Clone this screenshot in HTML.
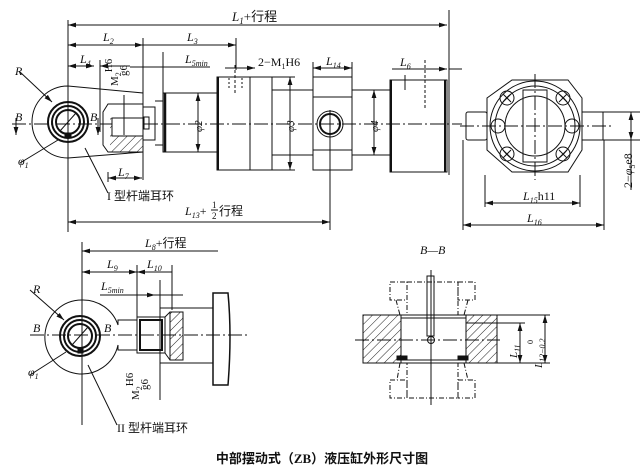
<!DOCTYPE html>
<html><head><meta charset="utf-8"><style>
body{margin:0;background:#fff;}
svg{display:block;}
text{font-family:"Liberation Serif","Noto Serif CJK SC",serif;fill:#111;}
.i{font-style:italic;}
.c{font-family:"Liberation Serif","Noto Sans CJK SC",sans-serif;}
</style></head><body>
<svg width="644" height="476" viewBox="0 0 644 476" xmlns="http://www.w3.org/2000/svg">
<defs>
<marker id="a" viewBox="0 0 10 6" refX="10" refY="3" markerWidth="8" markerHeight="5" orient="auto-start-reverse"><path d="M0,0L10,3L0,6z" fill="#111"/></marker>
<pattern id="h" width="6" height="6" patternUnits="userSpaceOnUse" patternTransform="rotate(45)"><line x1="0" y1="0" x2="0" y2="6" stroke="#222" stroke-width="1"/></pattern>
</defs>
<g stroke="#111" stroke-width="1" fill="none">
<!-- TOP VIEW dims -->
<line x1="68" y1="20" x2="68" y2="232"/>
<line x1="449" y1="10" x2="449" y2="175"/>
<line x1="68" y1="25" x2="447" y2="25" marker-start="url(#a)" marker-end="url(#a)"/>
<line x1="68" y1="45" x2="143" y2="45" marker-start="url(#a)" marker-end="url(#a)"/>
<line x1="143" y1="45" x2="236" y2="45" marker-end="url(#a)"/>
<line x1="143" y1="38" x2="143" y2="180"/>
<line x1="236" y1="38" x2="236" y2="70"/>
<line x1="68" y1="66" x2="94" y2="66" marker-start="url(#a)" marker-end="url(#a)"/>
<line x1="100" y1="66" x2="130" y2="66" marker-start="url(#a)"/>
<line x1="130" y1="67" x2="210" y2="67"/>
<line x1="163" y1="52" x2="163" y2="148"/>
<line x1="225" y1="68" x2="255" y2="68" marker-end="url(#a)"/>
<line x1="313" y1="68" x2="352" y2="68" marker-start="url(#a)" marker-end="url(#a)"/>
<line x1="313" y1="62" x2="313" y2="78"/><line x1="352" y1="62" x2="352" y2="78"/>
<line x1="392" y1="69" x2="447" y2="69" marker-end="url(#a)"/>
<line x1="449" y1="69" x2="462" y2="69"/>
<line x1="100" y1="60" x2="100" y2="132"/>
<line x1="108" y1="172" x2="108" y2="182"/>
<line x1="108" y1="178" x2="142" y2="178" marker-start="url(#a)" marker-end="url(#a)"/>
<line x1="68" y1="222" x2="330" y2="222" marker-start="url(#a)" marker-end="url(#a)"/>
<line x1="330" y1="110" x2="330" y2="230"/>
<!-- centerline -->
<line x1="12" y1="124" x2="462" y2="124" stroke-dasharray="14,3,2,3"/>
<!-- eye -->
<path d="M68,86 A36,36 0 1 0 68,158 L143,152 L143,93 Z"/>
<circle cx="68" cy="122" r="20" stroke-width="2"/>
<circle cx="68" cy="122" r="16" stroke-width="2"/>
<circle cx="68" cy="122" r="12" stroke-width="2"/>
<line x1="60" y1="131" x2="76" y2="113"/>
<rect x="65" y="133" width="6" height="5" fill="#111"/>
<line x1="68" y1="78" x2="68" y2="170"/>
<line x1="16" y1="118" x2="16" y2="135" marker-end="url(#a)"/>
<line x1="98" y1="118" x2="98" y2="135" marker-end="url(#a)"/>
<line x1="20" y1="72" x2="52" y2="102" marker-end="url(#a)"/>
<line x1="20" y1="163" x2="58" y2="140"/>
<line x1="85" y1="148" x2="108" y2="193"/>
<!-- rod end -->
<path d="M108,104 L143,104 L143,152 L108,152 L103,145 L103,112 Z"/>
<rect x="110" y="118" width="33" height="34" fill="url(#h)" stroke="none"/>
<rect x="112" y="118" width="31" height="18" fill="#fff"/>
<line x1="112" y1="118" x2="143" y2="118"/><line x1="112" y1="136" x2="143" y2="136"/>
<line x1="124" y1="95" x2="124" y2="135"/>
<path d="M143,107 L155,107 L155,140 L143,140"/>
<rect x="144" y="117" width="5" height="12"/>
<path d="M155,101 L163,101 L163,145 L155,145"/>
<rect x="163" y="93" width="54" height="59"/>
<line x1="165" y1="93" x2="165" y2="152" stroke-width="2.5"/>
<!-- barrel -->
<rect x="217" y="77" width="55" height="93"/>
<line x1="218" y1="77" x2="218" y2="170" stroke-width="2"/>
<line x1="250" y1="77" x2="250" y2="170"/>
<rect x="272" y="90" width="41" height="65"/>
<rect x="313" y="77" width="39" height="93"/>
<line x1="313" y1="97" x2="352" y2="97"/><line x1="313" y1="150" x2="352" y2="150"/>
<circle cx="330" cy="124" r="13"/><circle cx="330" cy="124" r="10" stroke-width="2"/>
<rect x="352" y="90" width="38" height="65"/>
<rect x="390" y="80" width="57" height="92"/>
<line x1="391" y1="80" x2="391" y2="172" stroke-width="2"/>
<line x1="445" y1="80" x2="445" y2="172" stroke-width="2"/>
<line x1="405" y1="75" x2="405" y2="90"/>
<line x1="235" y1="65" x2="235" y2="95" stroke-dasharray="3,2"/><line x1="229" y1="78" x2="229" y2="90" stroke-dasharray="2,2"/><line x1="242" y1="78" x2="242" y2="90" stroke-dasharray="2,2"/>
<line x1="425" y1="60" x2="425" y2="110" stroke-dasharray="3,2"/>
<line x1="198" y1="93" x2="198" y2="152" marker-start="url(#a)" marker-end="url(#a)"/>
<line x1="290" y1="77" x2="290" y2="170" marker-start="url(#a)" marker-end="url(#a)"/>
<line x1="272" y1="77" x2="295" y2="77"/><line x1="272" y1="170" x2="295" y2="170"/>
<line x1="374" y1="90" x2="374" y2="155" marker-start="url(#a)" marker-end="url(#a)"/>
<!-- RIGHT VIEW -->
<path d="M487,98 L512,80 L568,80 L582,98 L582,150 L568,172 L512,172 L487,150 Z"/>
<circle cx="535" cy="126" r="45"/>
<circle cx="535" cy="126" r="40"/>
<circle cx="535" cy="126" r="30"/>
<rect x="523" y="90" width="24" height="72"/>
<circle cx="507" cy="98" r="7"/><circle cx="563" cy="98" r="7"/>
<circle cx="498" cy="126" r="7"/><circle cx="572" cy="126" r="7"/>
<circle cx="507" cy="154" r="7"/><circle cx="563" cy="154" r="7"/>
<line x1="503" y1="94" x2="511" y2="102"/><line x1="511" y1="94" x2="503" y2="102"/>
<line x1="559" y1="94" x2="567" y2="102"/><line x1="567" y1="94" x2="559" y2="102"/>
<line x1="503" y1="150" x2="511" y2="158"/><line x1="511" y1="150" x2="503" y2="158"/>
<line x1="559" y1="150" x2="567" y2="158"/><line x1="567" y1="150" x2="559" y2="158"/>
<rect x="466" y="112" width="21" height="28" rx="2"/>
<rect x="582" y="112" width="21" height="28"/>
<line x1="460" y1="126" x2="612" y2="126" stroke-dasharray="14,3,2,3"/>
<line x1="535" y1="74" x2="535" y2="180" stroke-dasharray="14,3,2,3"/>
<line x1="485" y1="175" x2="485" y2="207"/><line x1="580" y1="175" x2="580" y2="207"/>
<line x1="485" y1="203" x2="580" y2="203" marker-start="url(#a)" marker-end="url(#a)"/>
<line x1="463" y1="140" x2="463" y2="230"/><line x1="604" y1="140" x2="604" y2="230"/>
<line x1="463" y1="225" x2="604" y2="225" marker-start="url(#a)" marker-end="url(#a)"/>
<line x1="603" y1="112" x2="640" y2="112"/><line x1="603" y1="140" x2="640" y2="140"/>
<line x1="631" y1="112" x2="631" y2="140" marker-start="url(#a)" marker-end="url(#a)"/>
<line x1="631" y1="140" x2="631" y2="190"/>
<!-- BOTTOM VIEW -->
<line x1="82" y1="242" x2="82" y2="425"/>
<line x1="82" y1="251" x2="218" y2="251" marker-start="url(#a)"/>
<line x1="82" y1="272" x2="137" y2="272" marker-start="url(#a)" marker-end="url(#a)"/>
<line x1="137" y1="272" x2="172" y2="272" marker-start="url(#a)"/>
<line x1="137" y1="265" x2="137" y2="320"/><line x1="172" y1="265" x2="172" y2="310"/>
<line x1="100" y1="295" x2="183" y2="295"/>
<line x1="130" y1="295" x2="155" y2="295" marker-end="url(#a)"/>
<line x1="160" y1="280" x2="160" y2="400"/>
<line x1="30" y1="335" x2="250" y2="335" stroke-dasharray="14,3,2,3"/>
<path d="M82,300 A37,37 0 1 0 118,345 L118,350 L137,350 L137,320 L118,320 L118,325 A37,37 0 0 0 82,300 Z"/>
<circle cx="80" cy="336" r="20" stroke-width="2"/>
<circle cx="80" cy="336" r="16" stroke-width="2"/>
<circle cx="80" cy="336" r="12" stroke-width="2"/>
<line x1="72" y1="345" x2="88" y2="327"/>
<rect x="78" y="348" width="5" height="5" fill="#111"/>
<line x1="30" y1="290" x2="64" y2="320" marker-end="url(#a)"/>
<line x1="30" y1="375" x2="66" y2="352"/>
<line x1="88" y1="365" x2="117" y2="425"/>
<rect x="137" y="317" width="28" height="36"/>
<rect x="140" y="320" width="22" height="30" stroke-width="2"/>
<rect x="170" y="312" width="13" height="48" fill="url(#h)"/>
<path d="M165,317 L170,312 M165,353 L170,360"/>
<line x1="160" y1="308" x2="213" y2="308"/><line x1="160" y1="363" x2="213" y2="363"/>
<path d="M213,293 L228,293 Q232,335 228,385 L213,385 Z" stroke-width="1.5"/>
<!-- B-B -->
<rect x="363" y="315" width="134" height="48"/>
<line x1="363" y1="320" x2="548" y2="320" stroke="none"/>
<rect x="363" y="315" width="38" height="48" fill="url(#h)"/>
<rect x="466" y="315" width="31" height="48" fill="url(#h)"/>
<path d="M401,318 L466,318 M401,360 L466,360"/>
<g stroke-dasharray="5,2,1,2">
<rect x="407" y="282" width="51" height="33"/>
<rect x="390" y="282" width="17" height="18"/><rect x="458" y="282" width="17" height="18"/>
<rect x="407" y="363" width="51" height="35"/>
<rect x="390" y="380" width="17" height="18"/><rect x="458" y="380" width="17" height="18"/>
<path d="M396,300 L400,315 M468,300 L464,315 M400,363 L397,380 M464,363 L468,380"/>
</g>
<line x1="355" y1="340" x2="500" y2="340" stroke-dasharray="14,3,2,3"/>
<line x1="431" y1="270" x2="431" y2="405"/>
<rect x="427" y="276" width="7" height="60"/>
<circle cx="431" cy="340" r="3.5"/>
<rect x="397" y="356" width="10" height="4" fill="#111"/><rect x="458" y="356" width="10" height="4" fill="#111"/>
<line x1="497" y1="315" x2="550" y2="315"/><line x1="497" y1="363" x2="550" y2="363"/>
<line x1="466" y1="323" x2="525" y2="323"/>
<line x1="520" y1="323" x2="520" y2="363" marker-start="url(#a)" marker-end="url(#a)"/>
<line x1="545" y1="315" x2="545" y2="363" marker-start="url(#a)" marker-end="url(#a)"/>
</g>
<!-- TEXT -->
<text x="232" y="21" class="i" font-size="13">L<tspan font-size="9" dy="3">1</tspan><tspan dy="-3" class="c" font-style="normal">+行程</tspan></text>
<text x="103" y="41" class="i" font-size="12">L<tspan font-size="8" dy="3">2</tspan></text>
<text x="187" y="41" class="i" font-size="12">L<tspan font-size="8" dy="3">3</tspan></text>
<text x="80" y="63" class="i" font-size="12">L<tspan font-size="8" dy="3">4</tspan></text>
<text x="185" y="63" class="i" font-size="12">L<tspan font-size="8" dy="3">5min</tspan></text>
<text x="258" y="66" font-size="12">2−M<tspan font-size="8" dy="3">1</tspan><tspan dy="-3">H6</tspan></text>
<text x="326" y="65" class="i" font-size="12">L<tspan font-size="8" dy="3">14</tspan></text>
<text x="400" y="66" class="i" font-size="12">L<tspan font-size="8" dy="3">6</tspan></text>
<text transform="translate(118,86) rotate(-90)" font-size="11">M<tspan font-size="8" dy="3">2</tspan><tspan dy="-9">H6</tspan></text>
<text transform="translate(127,76) rotate(-90)" font-size="11">g6</text>
<text x="15" y="75" class="i" font-size="12">R</text>
<text x="15" y="121" class="i" font-size="12">B</text>
<text x="90" y="121" class="i" font-size="12">B</text>
<text x="18" y="165" class="i" font-size="12">φ<tspan font-size="8" dy="3">1</tspan></text>
<text x="118" y="176" class="i" font-size="12">L<tspan font-size="8" dy="3">7</tspan></text>
<text transform="translate(202,132) rotate(-90)" class="i" font-size="11">φ2</text>
<text transform="translate(294,132) rotate(-90)" class="i" font-size="11">φ3</text>
<text transform="translate(378,132) rotate(-90)" class="i" font-size="11">φ4</text>
<text x="107" y="200" class="c" font-size="12">I 型杆端耳环</text>
<text x="185" y="215" class="i" font-size="12">L<tspan font-size="8" dy="3">13</tspan><tspan dy="-3" font-style="normal">+</tspan></text>
<text x="212" y="208" font-size="9">1</text><line x1="211" y1="210" x2="218" y2="210" stroke="#111"/><text x="212" y="219" font-size="9">2</text>
<text x="219" y="215" class="c" font-size="12">行程</text>
<text x="523" y="200" class="i" font-size="12">L<tspan font-size="8" dy="3">15</tspan><tspan dy="-3" font-style="normal">h11</tspan></text>
<text x="527" y="222" class="i" font-size="12">L<tspan font-size="8" dy="3">16</tspan></text>
<text transform="translate(632,188) rotate(-90)" font-size="12">2−<tspan class="i">φ</tspan><tspan font-size="8" dy="3">5</tspan><tspan dy="-3">e8</tspan></text>
<text x="145" y="247" class="i" font-size="12">L<tspan font-size="8" dy="3">8</tspan><tspan dy="-3" class="c" font-style="normal">+行程</tspan></text>
<text x="107" y="268" class="i" font-size="12">L<tspan font-size="8" dy="3">9</tspan></text>
<text x="147" y="268" class="i" font-size="12">L<tspan font-size="8" dy="3">10</tspan></text>
<text x="101" y="290" class="i" font-size="12">L<tspan font-size="8" dy="3">5min</tspan></text>
<text x="33" y="293" class="i" font-size="12">R</text>
<text x="33" y="332" class="i" font-size="12">B</text>
<text x="104" y="332" class="i" font-size="12">B</text>
<text x="28" y="376" class="i" font-size="12">φ<tspan font-size="8" dy="3">1</tspan></text>
<text transform="translate(139,400) rotate(-90)" font-size="11">M<tspan font-size="8" dy="3">2</tspan><tspan dy="-9">H6</tspan></text>
<text transform="translate(148,390) rotate(-90)" font-size="11">g6</text>
<text x="117" y="432" class="c" font-size="12">II 型杆端耳环</text>
<text x="420" y="254" class="i" font-size="12">B—B</text>
<text transform="translate(517,358) rotate(-90)" class="i" font-size="11">L<tspan font-size="8" dy="3">11</tspan></text>
<text transform="translate(542,368) rotate(-90)" class="i" font-size="11">L<tspan font-size="8" dy="3">12−0.2</tspan></text>
<text transform="translate(533,344) rotate(-90)" font-size="8">0</text>
<text x="322" y="463" text-anchor="middle" class="c" font-size="13" font-weight="bold">中部摆动式（ZB）液压缸外形尺寸图</text>
</svg>
</body></html>
